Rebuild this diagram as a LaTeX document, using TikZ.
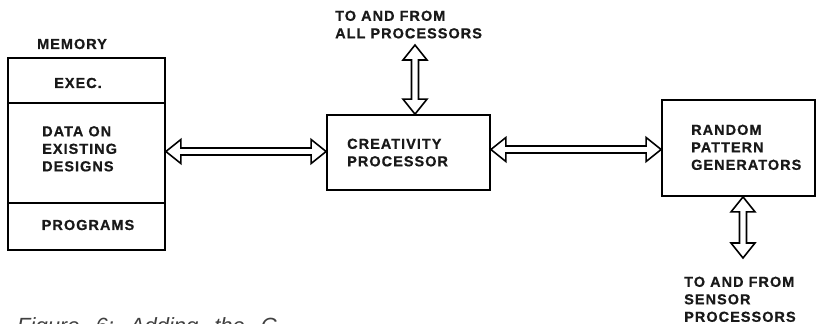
\documentclass[tikz,border=0pt]{standalone}
\usepackage{fontspec}
\setmainfont{Liberation Sans}
\newfontfamily\lblfont[LetterSpace=7,FakeBold=0.6]{Liberation Sans Bold}
\usetikzlibrary{calc}
\tikzset{
  boxline/.style={line width=1.8pt},
  blk/.style={boxline, draw, rectangle, inner sep=0pt},
  lbl/.style={font=\lblfont\fontsize{14.5}{17.5}\selectfont, align=left, inner sep=0pt, anchor=north west, text=black!90},
  lblc/.style={font=\lblfont\fontsize{14.5}{17.5}\selectfont, align=center, inner sep=0pt, text=black!90},
  blockarr/.style={line width=1.6pt, line join=miter}
}
% horizontal double block arrow from #1 (left tip) to #2 (right tip)
\newcommand\harrow[2]{\draw[blockarr] (#1) -- ++(15,-12) -- ++(0,8.5) -- ($(#2)+(-15,-3.5)$) -- ++(0,-8.5) -- (#2) -- ++(-15,12) -- ++(0,-8.5) -- ($(#1)+(15,3.5)$) -- ++(0,8.5) -- cycle;}
% vertical double block arrow from #1 (top tip) to #2 (bottom tip)
\newcommand\varrow[2]{\draw[blockarr] (#1) -- ++(12,15) -- ++(-8.5,0) -- ($(#2)+(3.5,-15)$) -- ++(8.5,0) -- (#2) -- ++(-12,-15) -- ++(8.5,0) -- ($(#1)+(-3.5,15)$) -- ++(-8.5,0) -- cycle;}
\begin{document}
\begin{tikzpicture}[x=1pt,y=-1pt]
\clip (0,0) rectangle (820,324);
\fill[white] (0,0) rectangle (820,324);
% memory
\node[blk, minimum width=157pt, minimum height=192pt] (mem) at (86.5,154) {};
\coordinate (d1) at (0,103);
\coordinate (d2) at (0,203);
\draw[boxline] (mem.west |- d1) -- (mem.east |- d1);
\draw[boxline] (mem.west |- d2) -- (mem.east |- d2);
\node[lblc] (memt) at (72,44) {MEMORY};
\node[lblc] (exec) at (78,83) {EXEC.};
\node[lbl] (data) at (42,126) {DATA ON\\EXISTING\\DESIGNS};
\node[lblc] (prog) at (88,225) {PROGRAMS};
% creativity processor
\node[blk, minimum width=163pt, minimum height=75pt] (cp) at (408.5,152.5) {};
\node[lbl] (cpt) at (347,138.5) {CREATIVITY\\PROCESSOR};
% random pattern generators
\node[blk, minimum width=153pt, minimum height=96pt] (rpg) at (738.5,148) {};
\node[lbl] (rpgt) at (691,124.5) {RANDOM\\PATTERN\\GENERATORS};
% labels
\node[lbl] (top) at (335,10.5) {TO AND FROM\\ALL PROCESSORS};
\node[lbl] (bot) at (684,276.5) {TO AND FROM\\SENSOR\\PROCESSORS};
% arrows
\coordinate (a1) at ($(mem.east |- cp.west)+(0,-1)$);
\coordinate (a2) at ($(cp.west)+(0,-1)$);
\harrow{a1}{a2}
\coordinate (b1) at ($(cp.east)+(0,-3)$);
\coordinate (b2) at ($(rpg.west |- cp.east)+(0,-3)$);
\harrow{b1}{b2}
\coordinate (c1) at (415,45);
\coordinate (c2) at (cp.north -| c1);
\varrow{c1}{c2}
\coordinate (e0) at (743,196);
\coordinate (e1) at (rpg.south -| e0);
\coordinate (e2) at (743,258);
\varrow{e1}{e2}
% caption
\node[font=\itshape\fontsize{22}{26}\selectfont, anchor=base west, inner sep=0pt, text=black!75] (cap) at (17,333) {Figure\hspace{16pt}6:\hspace{16pt}Adding\hspace{16pt}the\hspace{16pt}C};
\end{tikzpicture}
\end{document}
